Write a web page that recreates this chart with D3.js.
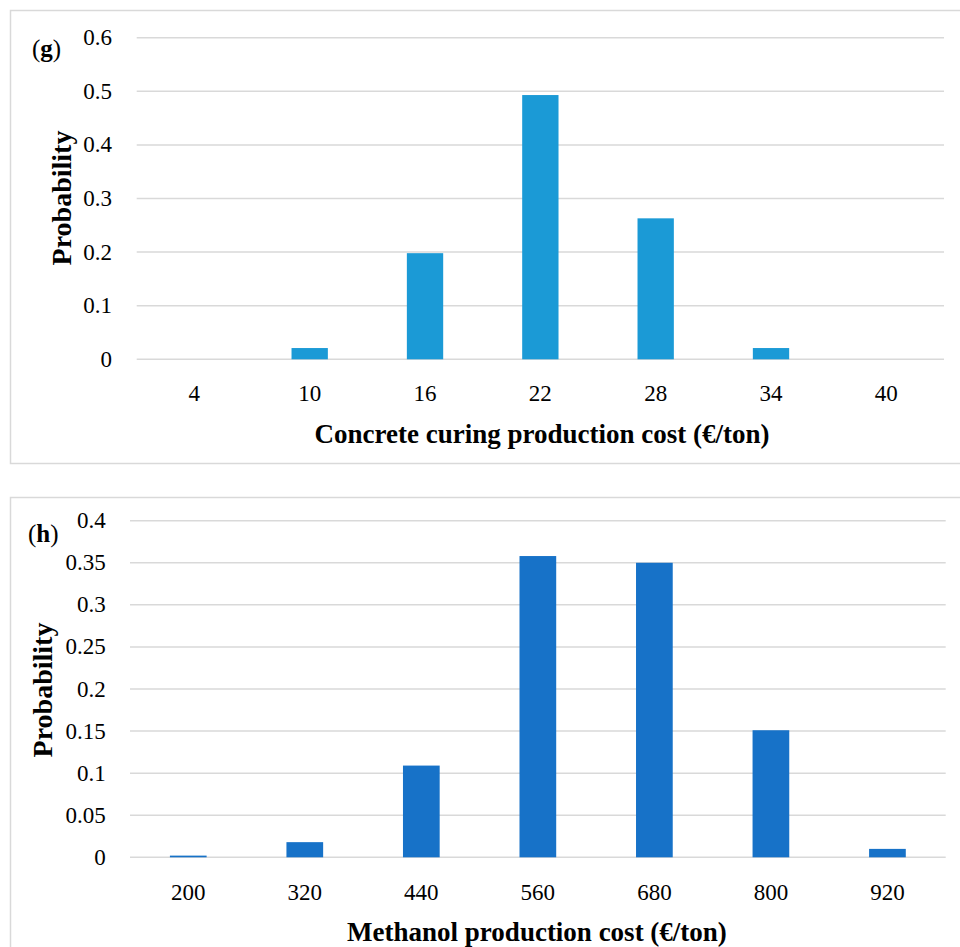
<!DOCTYPE html>
<html>
<head>
<meta charset="utf-8">
<script src="https://cdn.jsdelivr.net/npm/d3@7"></script>
<style>
	body { margin: 0; background: #fff; }
	svg text { font-family: "Liberation Serif", "DejaVu Serif", serif; fill: #000; }
</style>
</head>
<body>
<svg width="960" height="947"></svg>
<script>
// (g) concrete curing
const curingCost = ['4', '10', '16', '22', '28', '34', '40'];
const curingProb = [0, 0.021, 0.198, 0.493, 0.263, 0.021, 0];
const curingTicks = [0, 0.1, 0.2, 0.3, 0.4, 0.5, 0.6];

// (h) methanol
const methanolCost = ['200', '320', '440', '560', '680', '800', '920'];
const methanolProb = [0.002, 0.018, 0.109, 0.358, 0.35, 0.151, 0.01];
const methanolTicks = [0, 0.05, 0.1, 0.15, 0.2, 0.25, 0.3, 0.35, 0.4];

const svg = d3.select('svg');

const drawPanel = (opts) => {
	const g = svg.append('g');

	// frame
	g.append('rect')
		.attr('x', 10.5)
		.attr('y', opts.boxTop + 0.5)
		.attr('width', 980)
		.attr('height', opts.boxHeight)
		.attr('fill', 'none')
		.attr('stroke', '#d9d9d9')
		.attr('stroke-width', 1.5);

	const x = d3.scaleBand()
		.domain(opts.cats)
		.range([opts.left, opts.right])
		.paddingInner(0.685)
		.paddingOuter(0.3425);

	const y = d3.scaleLinear()
		.domain([0, d3.max(opts.ticks)])
		.range([opts.bottom, opts.top]);

	// gridlines
	g.append('g')
		.selectAll('line')
		.data(opts.ticks)
		.join('line')
		.attr('x1', opts.left)
		.attr('x2', opts.right)
		.attr('y1', d => y(d))
		.attr('y2', d => y(d))
		.attr('stroke', '#d9d9d9')
		.attr('stroke-width', 1.5);

	// y tick labels
	g.append('g')
		.selectAll('text')
		.data(opts.ticks)
		.join('text')
		.attr('x', opts.tickRight)
		.attr('y', d => y(d) + 7.5)
		.attr('text-anchor', 'end')
		.attr('font-size', 23)
		.text(d => d3.format('')(d));

	// bars
	const data = opts.cats.map((c, i) => ({ cat: c, val: opts.vals[i] }));
	g.append('g')
		.selectAll('rect')
		.data(data)
		.join('rect')
		.attr('x', d => x(d.cat))
		.attr('width', x.bandwidth())
		.attr('y', d => y(d.val))
		.attr('height', d => y(0) - y(d.val))
		.attr('fill', opts.colour);

	// x tick labels
	g.append('g')
		.selectAll('text')
		.data(opts.cats)
		.join('text')
		.attr('x', d => x(d) + x.bandwidth() / 2)
		.attr('y', opts.xTickY)
		.attr('text-anchor', 'middle')
		.attr('font-size', 23)
		.text(d => d);

	// axis titles
	g.append('text')
		.attr('x', opts.xTitleX)
		.attr('y', opts.xTitleY)
		.attr('text-anchor', 'middle')
		.attr('font-size', 27)
		.attr('font-weight', 700)
		.text(opts.xTitle);

	g.append('text')
		.attr('transform', `translate(${opts.yTitleX},${opts.yTitleY}) rotate(-90)`)
		.attr('text-anchor', 'middle')
		.attr('font-size', 28)
		.attr('font-weight', 700)
		.text('Probability');

	// panel letter
	const tag = g.append('text')
		.attr('x', opts.tagX)
		.attr('y', opts.tagY)
		.attr('font-size', 25);
	tag.append('tspan').text('(');
	tag.append('tspan').attr('font-weight', 700).text(opts.tag);
	tag.append('tspan').text(')');
};

drawPanel({
	cats: curingCost,
	vals: curingProb,
	ticks: curingTicks,
	colour: '#1b9ad6',
	boxTop: 10,
	boxHeight: 453,
	left: 136.7,
	right: 944,
	top: 37.7,
	bottom: 359.3,
	tickRight: 112,
	xTickY: 401,
	xTitle: 'Concrete curing production cost (€/ton)',
	xTitleX: 542,
	xTitleY: 443,
	yTitleX: 71,
	yTitleY: 198,
	tag: 'g',
	tagX: 32,
	tagY: 57
});

drawPanel({
	cats: methanolCost,
	vals: methanolProb,
	ticks: methanolTicks,
	colour: '#1772c8',
	boxTop: 497,
	boxHeight: 500,
	left: 130,
	right: 945.7,
	top: 520.7,
	bottom: 857.3,
	tickRight: 105.7,
	xTickY: 900,
	xTitle: 'Methanol production cost (€/ton)',
	xTitleX: 537,
	xTitleY: 941,
	yTitleX: 52,
	yTitleY: 690,
	tag: 'h',
	tagX: 28,
	tagY: 542
});
</script>
</body>
</html>
